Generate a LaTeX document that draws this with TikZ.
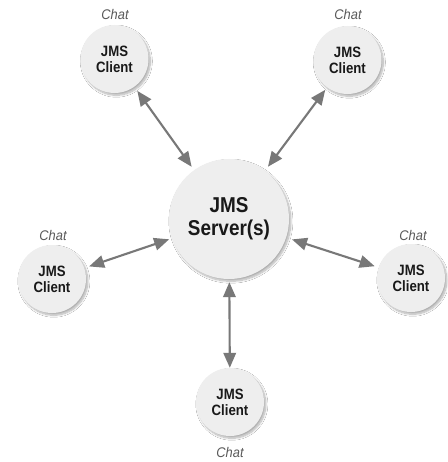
\documentclass[tikz,border=0pt]{standalone}
\usepackage{fontspec}
\setmainfont{Liberation Sans}
\newfontfamily\boldlabel[FakeStretch=0.88]{Liberation Sans Bold}
\newfontfamily\chatlabel[FakeStretch=0.92]{Liberation Sans Italic}
\usetikzlibrary{arrows.meta,shadows.blur}
\definecolor{discfill}{gray}{0.935}
\definecolor{link}{gray}{0.47}
\tikzset{
  x=1pt,y=-1pt,
  disc/.style={circle,fill=discfill,inner sep=0pt,align=center,text=black!90,
    blur shadow={shadow xshift=1.8pt,shadow yshift=-2.2pt,shadow blur radius=2pt,shadow blur steps=10,shadow opacity=32}},
  clientdisc/.style={disc,minimum size=68pt,font=\boldlabel\fontsize{15}{16}\selectfont},
  serverdisc/.style={disc,minimum size=120pt,font=\boldlabel\fontsize{21.5}{23}\selectfont},
  chat/.style={font=\chatlabel\fontsize{14}{15}\selectfont,text=black!65},
  biarrow/.style={draw=link,line width=2.1pt,{Triangle[length=15pt,width=12.5pt]}-{Triangle[length=15pt,width=12.5pt]}}
}
\begin{document}
\begin{tikzpicture}
\useasboundingbox (0,0) rectangle (447,462);
\fill[white] (0,0) rectangle (447,462);
\node[serverdisc] (s) at (229,219) {JMS\\Server(s)};
\node[clientdisc] (c1) at (114.5,59) {JMS\\Client};
\node[clientdisc] (c2) at (347.5,60) {JMS\\Client};
\node[clientdisc] (c3) at (52,279) {JMS\\Client};
\node[clientdisc] (c4) at (411,278) {JMS\\Client};
\node[clientdisc] (c5) at (230,402) {JMS\\Client};
\node[chat] (t1) at (115,14) {Chat};
\node[chat] (t2) at (348,15) {Chat};
\node[chat] (t3) at (53,235) {Chat};
\node[chat] (t4) at (413,235) {Chat};
\node[chat] (t5) at (230,452) {Chat};
\draw[biarrow,shorten <=5pt,shorten >=4pt] (c1) -- (s);
\draw[biarrow,shorten <=3pt,shorten >=5pt] (c2) -- (s);
\draw[biarrow,shorten <=5pt,shorten >=3pt] (c3) -- (s);
\draw[biarrow,shorten <=4pt,shorten >=6pt] (c4) -- (s);
\draw[biarrow,shorten <=0pt,shorten >=3pt] (c5) -- (s);
\end{tikzpicture}
\end{document}
